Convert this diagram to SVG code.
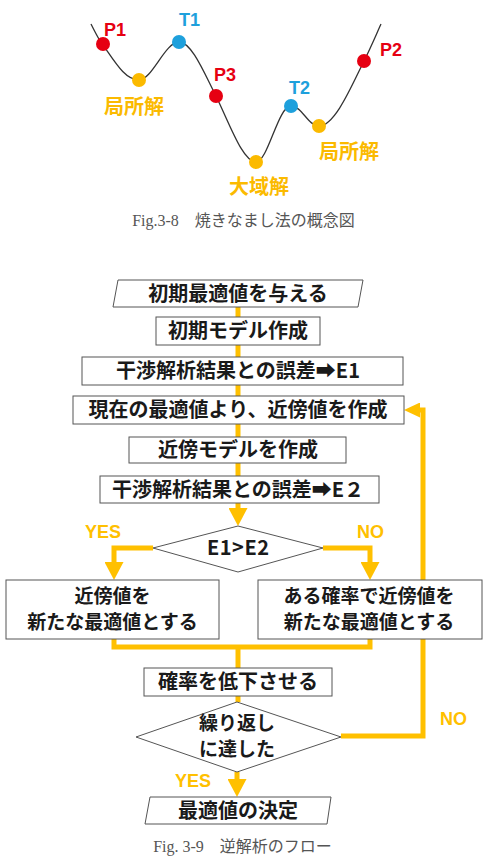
<svg xmlns="http://www.w3.org/2000/svg" width="492" height="857" viewBox="0 0 492 857">
<style>
.jp{font-family:"Noto Sans CJK JP","Noto Sans",sans-serif;font-weight:bold;font-size:20px;fill:#1a1a1a;text-anchor:middle}
.two{font-size:19px}
.lbl{font-family:"Liberation Sans","Noto Sans",sans-serif;font-weight:bold;font-size:18px}
.yn{font-family:"Liberation Sans","Noto Sans",sans-serif;font-weight:bold;font-size:18px;fill:#FFC000}
.cap{font-family:"Liberation Serif","Noto Sans CJK JP",serif;font-size:16px;fill:#555;text-anchor:middle}
.box{fill:#fff;stroke:#555;stroke-width:1}
.ln{fill:none;stroke:#FFC000;stroke-width:5}
.red{fill:#E60012}.blue{fill:#1EA0DC}.org{fill:#FBBA00}
</style>
<defs>
<marker id="ah" viewBox="0 0 18 19" refX="8" refY="9.5" markerWidth="18" markerHeight="19" markerUnits="userSpaceOnUse" orient="auto"><path d="M0,0 L18,9.5 L0,19 z" fill="#FFC000"/></marker>
<marker id="ah2" viewBox="0 0 16 15" refX="6" refY="7.5" markerWidth="16" markerHeight="15" markerUnits="userSpaceOnUse" orient="auto"><path d="M0,0 L16,7.5 L0,15 z" fill="#FFC000"/></marker>
</defs>

<g id="landscape">
<path d="M91,24 C97,36 100,42 103,45 C115,62 125,80 139,80 C152,80 165,42 179,42 C192,42 205,75 216,96 C230,125 243,162 256,162 C268,162 278,106 291,106 C302,106 308,126 319,126 C335,126 352,85 364,61 C371,47 376,35 381,24" fill="none" stroke="#333" stroke-width="1.3"/>
<circle class="red" cx="103" cy="44" r="7"/>
<circle class="org" cx="139" cy="80" r="7"/>
<circle class="blue" cx="179" cy="42" r="7"/>
<circle class="red" cx="216" cy="96" r="7"/>
<circle class="org" cx="256" cy="162" r="7"/>
<circle class="blue" cx="291" cy="106" r="7"/>
<circle class="org" cx="319" cy="126" r="7"/>
<circle class="red" cx="364" cy="61" r="7"/>
<text class="lbl red" x="104" y="36">P1</text>
<text class="lbl blue" x="179" y="26">T1</text>
<text class="lbl red" x="214" y="81">P3</text>
<text class="lbl blue" x="289" y="94">T2</text>
<text class="lbl red" x="380" y="56">P2</text>
<text class="jp" style="fill:#FBBA00" x="134" y="114">局所解</text>
<text class="jp" style="fill:#FBBA00" x="349" y="159">局所解</text>
<text class="jp" style="fill:#FBBA00" x="259" y="194">大域解</text>
</g>
<text class="cap" x="243.5" y="226">Fig.3-8　焼きなまし法の概念図</text>

<g id="connectors">
<path class="ln" d="M238,307 V317"/>
<path class="ln" d="M238,345 V357"/>
<path class="ln" d="M238,385 V396"/>
<path class="ln" d="M238,424 V437"/>
<path class="ln" d="M238,463 V476"/>
<path class="ln" d="M238,503 V516" marker-end="url(#ah)"/>
<path class="ln" d="M153,548 H114 V570" marker-end="url(#ah)"/>
<path class="ln" d="M323,548 H370 V570" marker-end="url(#ah)"/>
<path class="ln" d="M114,639 V647 H370 V639"/>
<path class="ln" d="M238,647 V668"/>
<path class="ln" d="M238,696 V702"/>
<path class="ln" d="M341,736 H423 V410 H414" marker-end="url(#ah2)"/>
<path class="ln" d="M237,772 V787" marker-end="url(#ah)"/>
</g>

<g id="n1"><polygon class="box" points="118,280 363,280 358,307 113,307"/><text class="jp" x="238" y="300.5">初期最適値を与える</text></g>
<g id="n2"><rect class="box" x="156" y="317" width="164" height="28"/><text class="jp" x="238" y="338">初期モデル作成</text></g>
<g id="n3"><rect class="box" x="82" y="357" width="321" height="28"/><text class="jp" x="238" y="378">干渉解析結果との誤差➡E1</text></g>
<g id="n4"><rect class="box" x="73" y="396" width="331" height="28"/><text class="jp" x="238" y="417">現在の最適値より、近傍値を作成</text></g>
<g id="n5"><rect class="box" x="129" y="437" width="217" height="26"/><text class="jp" x="238" y="457">近傍モデルを作成</text></g>
<g id="n6"><rect class="box" x="100" y="476" width="279" height="27"/><text class="jp" x="238" y="496.5">干渉解析結果との誤差➡E２</text></g>
<g id="n7"><polygon class="box" points="238,526 323,548 238,572 153,548"/><text class="jp" x="238" y="555" textLength="62">E1&gt;E2</text></g>
<g id="n8"><rect class="box" x="6" y="580" width="213" height="59"/><text class="jp two" x="112.5" y="603">近傍値を</text><text class="jp two" x="112.5" y="629">新たな最適値とする</text></g>
<g id="n9"><rect class="box" x="258" y="580" width="224" height="59"/><text class="jp two" x="369" y="603">ある確率で近傍値を</text><text class="jp two" x="369" y="629">新たな最適値とする</text></g>
<g id="n10"><rect class="box" x="144" y="668" width="188" height="28"/><text class="jp" x="238" y="689">確率を低下させる</text></g>
<g id="n11"><polygon class="box" points="237,702 341,737 237,772 136,737"/><text class="jp two" x="237" y="730">繰り返し</text><text class="jp two" x="237" y="756">に達した</text></g>
<g id="n12"><polygon class="box" points="150,797 331,797 327,824 145,824"/><text class="jp" x="238" y="817.5">最適値の決定</text></g>

<g id="labels">
<text class="yn" x="85" y="538">YES</text>
<text class="yn" x="357" y="538">NO</text>
<text class="yn" x="440" y="725">NO</text>
<text class="yn" x="175" y="787">YES</text>
</g>
<text class="cap" x="242.5" y="852">Fig. 3-9　逆解析のフロー</text>
</svg>
